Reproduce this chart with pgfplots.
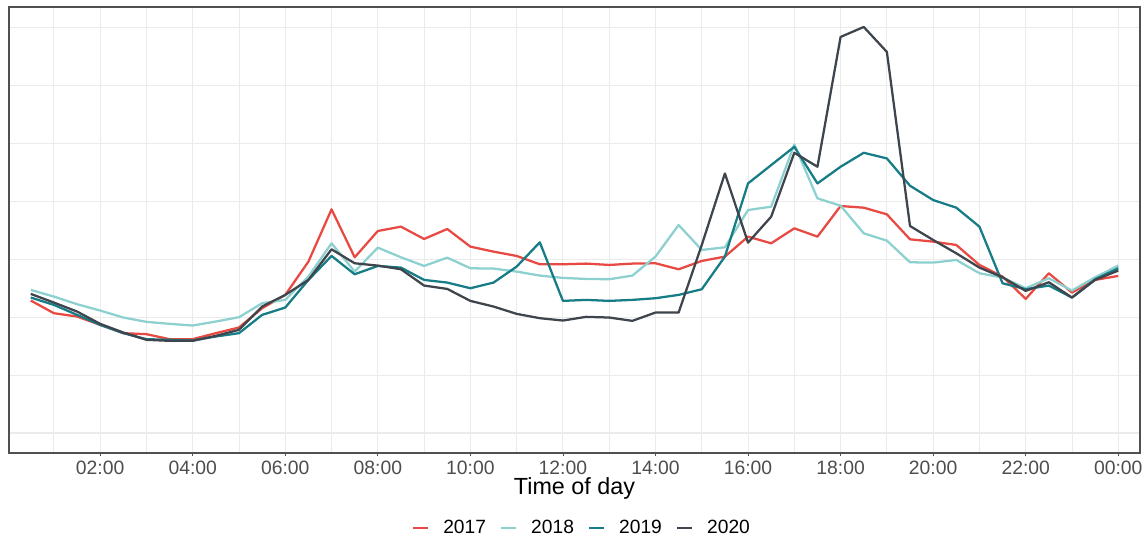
\documentclass[border=0pt]{standalone}
\usepackage{fontspec}
\setmainfont{Liberation Sans}
\usepackage{pgfplots}
\pgfplotsset{compat=1.18}
\definecolor{c17}{RGB}{232,74,67}
\definecolor{c18}{RGB}{141,208,208}
\definecolor{c19}{RGB}{22,124,133}
\definecolor{c20}{RGB}{62,69,77}
\definecolor{gridc}{RGB}{235,235,235}
\definecolor{framec}{RGB}{80,80,80}
\definecolor{tickc}{RGB}{77,77,77}
\begin{document}
\begin{tikzpicture}
\begin{axis}[
  scale only axis, width=848.25pt, height=334.5pt,
  xmin=0.03, xmax=24.47, ymin=0, ymax=1340,
  xtick={2,4,...,24},
  xticklabels={02:00,04:00,06:00,08:00,10:00,12:00,14:00,16:00,18:00,20:00,22:00,00:00},
  minor xtick={1,3,...,23},
  ytick={60,234,...,1278}, yticklabels={},
  xtick pos=bottom, ytick pos=left,
  tick align=outside,
  major tick length=2.25pt, minor tick length=0pt,
  x tick style={draw=framec, line width=0.6pt},
  y tick style={draw=none},
  grid=both,
  major grid style={draw=gridc, line width=0.8pt},
  minor grid style={draw=gridc, line width=0.6pt},
  axis line style={draw=framec, line width=0.8pt},
  xticklabel style={font=\fontsize{14.5pt}{17pt}\selectfont, text=tickc},
  xlabel={Time of day},
  xlabel style={at={(axis description cs:0.5,-0.0935)}, anchor=base, inner sep=0pt, font=\fontsize{17.5pt}{20pt}\selectfont},
  legend columns=4,
  legend cell align=left,
  legend image code/.code={\draw[#1, line width=1.7pt] (0pt,0pt) -- (11.25pt,0pt);},
  legend style={at={(axis description cs:0.5057,-0.1682)}, anchor=center, draw=none, fill=none,
    inner sep=0pt, outer sep=0pt, nodes={inner sep=0pt},
    font=\fontsize{14.4pt}{17pt}\selectfont,
    /tikz/every odd column/.append style={column sep=10.5pt},
    /tikz/every even column/.append style={column sep=10.5pt}},
  every axis plot/.append style={line width=1.7pt, line join=round},
]
\addplot[c17] coordinates {(0.5,458)(1,420)(1.5,410)(2,385)(2.5,360)(3,357)(3.5,342)(4,342)(4.5,360)(5,377)(5.5,435)(6,475)(6.5,575)(7,732)(7.5,588)(8,667)(8.5,680)(9,643)(9.5,673)(10,620)(10.5,605)(11,592)(11.5,567)(12,567)(12.5,569)(13,565)(13.5,569)(14,570)(14.5,552)(15,577)(15.5,590)(16,650)(16.5,630)(17,675)(17.5,650)(18,742)(18.5,737)(19,717)(19.5,642)(20,635)(20.5,625)(21,565)(21.5,530)(22,463)(22.5,540)(23,482)(23.5,520)(24,532)};
\addlegendentry{2017}
\addplot[c18] coordinates {(0.5,490)(1,470)(1.5,447)(2,428)(2.5,407)(3,394)(3.5,388)(4,383)(4.5,395)(5,408)(5.5,450)(6,460)(6.5,530)(7,630)(7.5,545)(8,617)(8.5,588)(9,562)(9.5,587)(10,555)(10.5,554)(11,545)(11.5,533)(12,526)(12.5,523)(13,522)(13.5,533)(14,590)(14.5,685)(15,610)(15.5,618)(16,730)(16.5,740)(17,927)(17.5,765)(18,743)(18.5,660)(19,638)(19.5,573)(20,572)(20.5,580)(21,540)(21.5,527)(22,495)(22.5,525)(23,488)(23.5,528)(24,563)};
\addlegendentry{2018}
\addplot[c19] coordinates {(0.5,467)(1,445)(1.5,415)(2,385)(2.5,360)(3,342)(3.5,340)(4,338)(4.5,350)(5,360)(5.5,415)(6,437)(6.5,520)(7,592)(7.5,537)(8,562)(8.5,557)(9,520)(9.5,512)(10,495)(10.5,512)(11,560)(11.5,633)(12,457)(12.5,460)(13,457)(13.5,460)(14,465)(14.5,475)(15,492)(15.5,590)(16,810)(16.5,865)(17,920)(17.5,810)(18,860)(18.5,902)(19,885)(19.5,803)(20,760)(20.5,737)(21,680)(21.5,510)(22,492)(22.5,503)(23,467)(23.5,522)(24,555)};
\addlegendentry{2019}
\addplot[c20] coordinates {(0.5,478)(1,452)(1.5,425)(2,388)(2.5,362)(3,340)(3.5,337)(4,337)(4.5,352)(5,370)(5.5,440)(6,475)(6.5,520)(7,612)(7.5,570)(8,563)(8.5,552)(9,503)(9.5,493)(10,457)(10.5,440)(11,418)(11.5,405)(12,398)(12.5,409)(13,407)(13.5,397)(14,422)(14.5,422)(15,625)(15.5,840)(16,632)(16.5,710)(17,902)(17.5,860)(18,1250)(18.5,1280)(19,1205)(19.5,682)(20,640)(20.5,600)(21,557)(21.5,528)(22,487)(22.5,513)(23,467)(23.5,520)(24,548)};
\addlegendentry{2020}
\end{axis}
\pgfresetboundingbox
\useasboundingbox (-6.75pt,-63.75pt) rectangle (853.5pt,339.75pt);
\end{tikzpicture}
\end{document}
